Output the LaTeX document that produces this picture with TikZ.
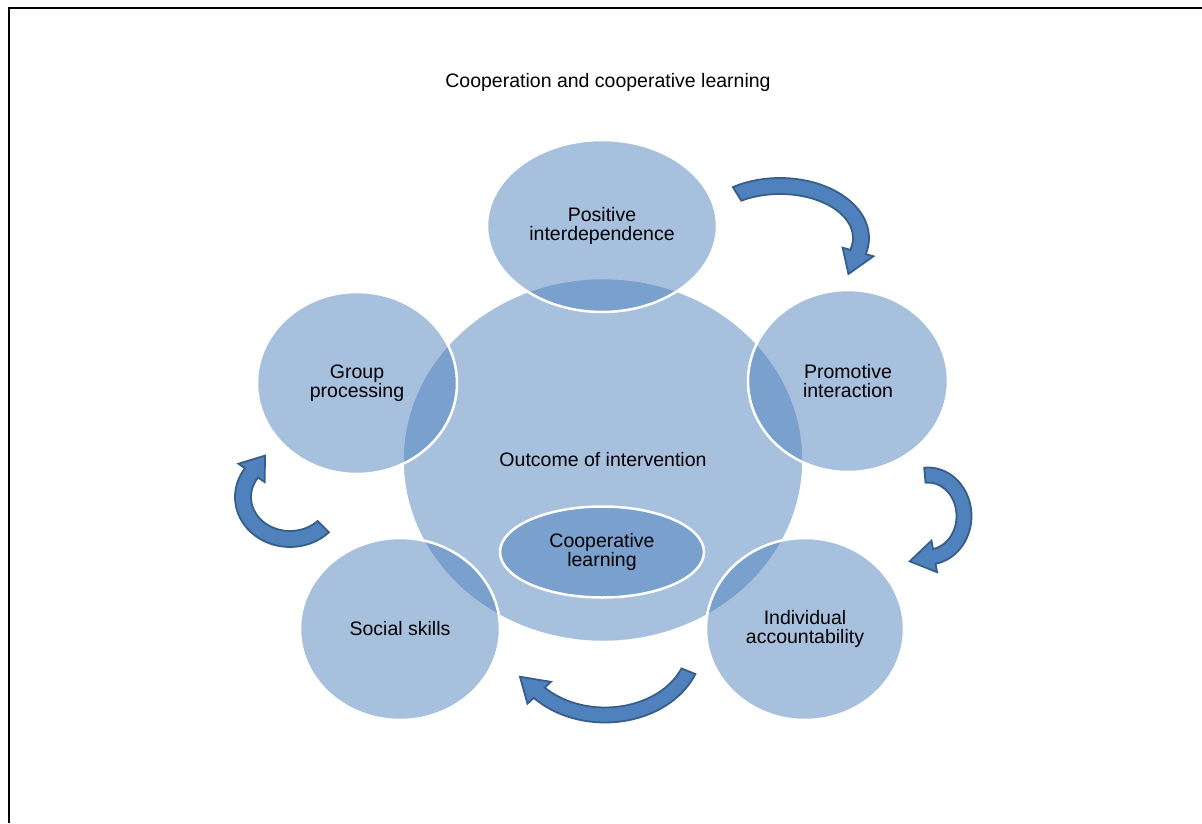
\documentclass[tikz,border=0pt]{standalone}
\usepackage{fontspec}
\setmainfont{Liberation Sans}
\usetikzlibrary{shapes.geometric,calc}
\definecolor{accent}{HTML}{4F81BD}
\definecolor{accentdark}{HTML}{385D8A}
\tikzset{
  bubble/.style={ellipse, inner sep=0pt, draw=white, line width=2.5pt, fill=accent, fill opacity=0.5, text opacity=1, align=center, text=black},
  blockarrow/.style={fill=accent, draw=accentdark, line width=1.8pt, line join=miter},
  frameline/.style={line width=2.5pt, black}
}
\newcommand\curvedarrow[9]{%
  \coordinate (ac) at (#1,#2);
  \coordinate (bm) at ($(ac)+(#6:#3 and #4)$);
  \coordinate (bt) at ($(bm)+({#3*sin(#6)},{-#4*cos(#6)})$);
  \coordinate (tip) at ($(bm)!#9pt!(bt)$);
  \draw[blockarrow] ($(ac)+(#5:{#3+#7} and {#4+#7})$)
     arc[start angle=#5, end angle=#6, x radius={#3+#7}, y radius={#4+#7}]
     -- ($(ac)+(#6:{#3+#8} and {#4+#8})$) -- (tip) -- ($(ac)+(#6:{#3-#8} and {#4-#8})$)
     -- ($(ac)+(#6:{#3-#7} and {#4-#7})$)
     arc[start angle=#6, end angle=#5, x radius={#3-#7}, y radius={#4-#7}] -- cycle;
}
\begin{document}
\begin{tikzpicture}[x=1pt, y=1pt, font=\fontsize{19.5}{19.5}\selectfont]
\useasboundingbox (0,0) rectangle (1202,-823);
% frame
\coordinate (fl) at (9,-823);
\coordinate (ftl) at (9,-8);
\coordinate (ftr) at (1202,-8);
\draw[frameline] (fl) -- (ftl) -- (ftr);
% title
\node (title) at (608,-82) {Cooperation and cooperative learning};
% central circle
\node[bubble, minimum width=401pt, minimum height=364pt] (outcome) at (603,-460) {};
% satellites
\node[bubble, minimum width=230pt, minimum height=172pt] (pos) at (602,-226) {Positive\\interdependence};
\node[bubble, minimum width=200pt, minimum height=182pt] (prom) at (848,-381) {Promotive\\interaction};
\node[bubble, minimum width=198pt, minimum height=182pt] (indiv) at (805,-629) {Individual\\accountability};
\node[bubble, minimum width=200pt, minimum height=182pt] (social) at (400,-629) {Social skills};
\node[bubble, minimum width=200pt, minimum height=182pt] (group) at (357,-383) {Group\\processing};
% center text
\node (outtext) at (603,-460) {Outcome of intervention};
% inner ellipse
\node[bubble, minimum width=204pt, minimum height=91pt] (coop) at (602,-552) {Cooperative\\learning};
% curved arrows
\curvedarrow{780}{-238}{81}{52}{122}{-15.6}{8}{16}{24}
\curvedarrow{928}{-516}{36}{41}{95}{-80}{7.5}{16}{25}
\curvedarrow{605}{-645}{90}{70}{-22}{-137}{7.5}{16}{25}
\curvedarrow{290}{-497}{47}{42}{-45}{-215}{8}{16}{22}
\end{tikzpicture}
\end{document}
